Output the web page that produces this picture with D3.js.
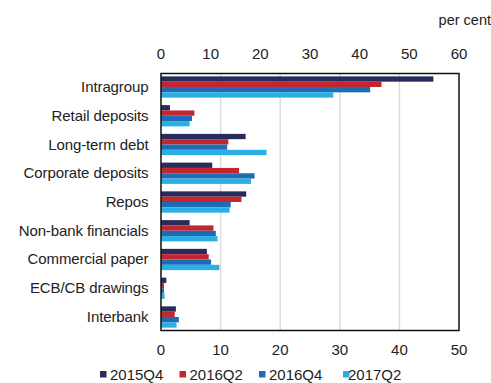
<!DOCTYPE html>
<html><head><meta charset="utf-8">
<script src="https://cdn.jsdelivr.net/npm/d3@7"></script>
<style>body{margin:0;background:#fff}svg{display:block;font-family:"Liberation Sans",Arial,sans-serif}</style>
</head><body><svg id="c" width="491" height="383"></svg>
<script>
const categories = ["Intragroup","Retail deposits","Long-term debt","Corporate deposits","Repos","Non-bank financials","Commercial paper","ECB/CB drawings","Interbank"];
const seriesNames = ["2015Q4","2016Q2","2016Q4","2017Q2"];
const s2015Q4 = [45.7, 1.5, 14.2, 8.6, 14.3, 4.8, 7.7, 0.9, 2.5];
const s2016Q2 = [37.0, 5.6, 11.3, 13.1, 13.5, 8.8, 8.0, 0.5, 2.3];
const s2016Q4 = [35.1, 5.2, 11.1, 15.7, 11.7, 9.2, 8.4, 0.5, 3.0];
const s2017Q2 = [28.9, 4.8, 17.7, 15.1, 11.5, 9.5, 9.8, 0.6, 2.6];
const bottomTicks = [0,10,20,30,40,50];
const topTicks = [0,10,20,30,40,50,60];
const colors = ["#262c5c","#c3262d","#1e6cb5","#2aaee6"];
const series = [s2015Q4, s2016Q2, s2016Q4, s2017Q2];

const svg = d3.select("#c");
const L = 161, R = 459, T = 73.5, B = 330.5;
const x = d3.scaleLinear().domain([0,50]).range([L,R]);
const xTop = d3.scaleLinear().domain([0,60]).range([L,R]);
const y = d3.scaleBand().domain(categories).range([T,B]).paddingInner(0.26).paddingOuter(0.1);
const yi = d3.scaleBand().domain(seriesNames).range([0,y.bandwidth()]);

// gridlines
svg.append("g").selectAll("line").data(bottomTicks.slice(1,-1)).join("line")
  .attr("x1",d=>x(d)).attr("x2",d=>x(d)).attr("y1",T).attr("y2",B)
  .attr("stroke","#dcdcdc").attr("stroke-width",1.5);

// bars
categories.forEach((c,i)=>{
  series.forEach((s,j)=>{
    svg.append("rect").attr("x",x(0)).attr("y",y(c)+yi(seriesNames[j]))
      .attr("width",x(s[i])-x(0)).attr("height",yi.bandwidth())
      .attr("fill",colors[j]);
  });
});

// frame
svg.append("rect").attr("x",L).attr("y",T).attr("width",R-L).attr("height",B-T)
  .attr("fill","none").attr("stroke","#111").attr("stroke-width",1.5);

// axes labels
const fs = "15px";
svg.append("g").selectAll("text").data(topTicks).join("text")
  .attr("x",d=>xTop(d)).attr("y",59).attr("text-anchor","middle")
  .attr("font-size",fs).attr("fill","#222").text(d=>d);
svg.append("g").selectAll("text").data(bottomTicks).join("text")
  .attr("x",d=>x(d)).attr("y",355).attr("text-anchor","middle")
  .attr("font-size",fs).attr("fill","#222").text(d=>d);

// category labels
svg.append("g").selectAll("text").data(categories).join("text")
  .attr("x",148.5).attr("y",d=>y(d)+y.bandwidth()/2+5).attr("text-anchor","end")
  .attr("font-size","15px").attr("letter-spacing","-0.1px").attr("fill","#222").text(d=>d);

svg.append("text").attr("x",491).attr("y",25).attr("text-anchor","end")
  .attr("font-size","14.5px").attr("fill","#222").text("per cent");

// legend
const lx = [100,179.5,259,343];
const lg = svg.append("g").selectAll("g").data(seriesNames).join("g")
  .attr("transform",(d,i)=>`translate(${lx[i]},0)`);
lg.append("rect").attr("x",0).attr("y",371).attr("width",6.5).attr("height",6.5).attr("fill",(d,i)=>colors[i]);
lg.append("text").attr("x",(d,i)=> i===3 ? 5 : 10).attr("y",379.5).attr("font-size",fs).attr("fill","#222").text(d=>d);
</script></body></html>
